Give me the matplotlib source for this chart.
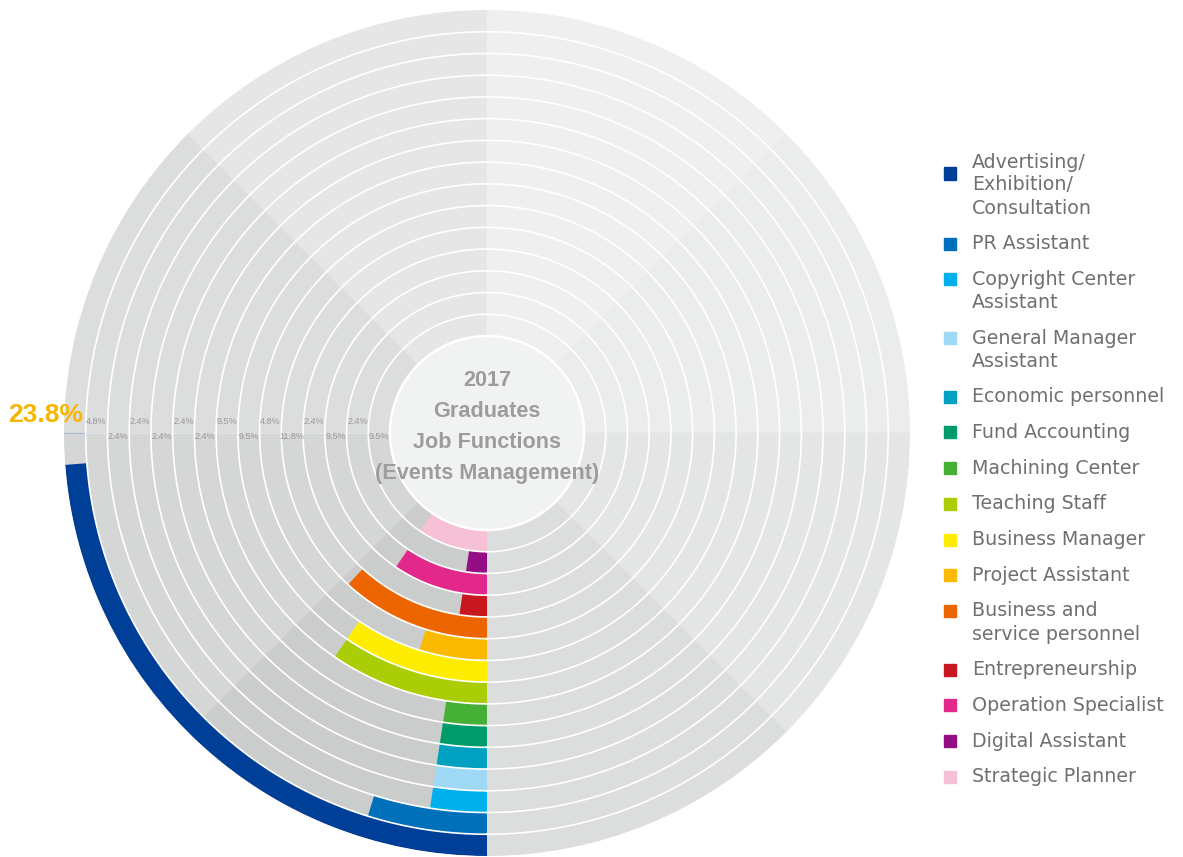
import numpy as np
import matplotlib.pyplot as plt
from matplotlib.patches import Rectangle

# ring data, outermost ring first
functions = ["Advertising/\nExhibition/\nConsultation", "PR Assistant",
             "Copyright Center\nAssistant", "General Manager\nAssistant",
             "Economic personnel", "Fund Accounting", "Machining Center",
             "Teaching Staff", "Business Manager", "Project Assistant",
             "Business and\nservice personnel", "Entrepreneurship",
             "Operation Specialist", "Digital Assistant", "Strategic Planner"]
shares = [23.8, 4.8, 2.4, 2.4, 2.4, 2.4, 2.4, 9.5, 9.5, 4.8, 11.8, 2.4, 9.5, 2.4, 9.5]
colors = ["#003f98", "#0070bb", "#00b0ec", "#9fd9f6", "#00a0c0", "#009b6b",
          "#45b035", "#aacd06", "#ffed00", "#fbba00", "#ec6500", "#c8171e",
          "#e2288a", "#940d85", "#f6c0d6"]
title_lines = ["2017", "Graduates", "Job Functions", "(Events Management)"]

# background shading, 45 degree sectors clockwise from 6 o'clock
sector_colors = ["#cbcccc", "#d5d6d6", "#dcdddd", "#e6e6e6",
                 "#efefef", "#ebecec", "#e4e5e5", "#dcdddd"]

W, H = 1183, 857
cx, cy = 487, 433
R_out, R_in = 423, 97
n = len(shares)
pitch = (R_out - R_in) / n

fig = plt.figure(figsize=(W / 100, H / 100), dpi=100)
ax = fig.add_axes([(cx - R_out) / W, (H - cy - R_out) / H, 2 * R_out / W, 2 * R_out / H],
                  projection="polar")
ax.set_theta_zero_location("S")
ax.set_theta_direction(-1)
ax.set_ylim(0, R_out)
ax.set_axis_off()

# background tracks
sec = 2 * np.pi / len(sector_colors)
ax.bar(np.arange(len(sector_colors)) * sec, R_out - R_in, width=sec, bottom=R_in,
       align="edge", color=sector_colors, edgecolor=sector_colors, linewidth=0.5)

# value bars
bottoms = R_out - (np.arange(n) + 1) * pitch
ax.bar(0, pitch, width=np.array(shares) / 100 * 2 * np.pi, bottom=bottoms,
       align="edge", color=colors, linewidth=0)

# radial label line at 9 o'clock
ax.plot([np.pi / 2, np.pi / 2], [R_in, R_out - pitch], color="#e2e3e3", lw=0.8, zorder=3)
ax.plot([np.pi / 2, np.pi / 2], [R_out - pitch, R_out], color="#a9b7d6", lw=0.8, zorder=3)

# white separators between rings
t = np.linspace(0, 2 * np.pi, 720)
for k in range(1, n):
    ax.plot(t, np.full_like(t, R_out - k * pitch), color="white", lw=1.2, zorder=4)

# center disc
ax.bar(0, R_in, width=2 * np.pi, bottom=0, align="edge", color="#f1f2f2",
       linewidth=0, zorder=5)
ax.plot(t, np.full_like(t, R_in), color="white", lw=1.8, zorder=5)
for j, line in enumerate(title_lines):
    fig.text(cx / W, 1 - (381 + j * 31) / H, line, ha="center", va="center",
             fontsize=15.6, fontweight="bold", color="#9c9c9c",
             family="Liberation Sans", zorder=6)

# percentage labels along the 9 o'clock line
for k, v in enumerate(shares):
    rc = R_out - (k + 0.5) * pitch
    if k == 0:
        ax.annotate(f"{v}%", xy=(np.pi / 2, rc), xytext=(-21, 13), textcoords="offset points",
                    ha="center", va="center", fontsize=19, fontweight="bold",
                    color="#f7b500", family="Liberation Sans", zorder=7)
        continue
    dy = 8 if k % 2 == 1 else -2.5
    ax.annotate(f"{v}%", xy=(np.pi / 2, rc), xytext=(0, dy), textcoords="offset points",
                ha="center", va="center", fontsize=6.5, color="#999999",
                family="Liberation Sans", zorder=7)

# legend
y = 162
for name, c in zip(functions, colors):
    lines = name.split("\n")
    sq_y = y + (11.5 if len(lines) > 2 else 0)
    fig.patches.append(Rectangle((944 / W, 1 - (sq_y + 6) / H), 12 / W, 12 / H,
                                 transform=fig.transFigure, color=c))
    for j, line in enumerate(lines):
        fig.text(972 / W, 1 - (y + j * 23) / H, line, ha="left", va="center",
                 fontsize=13.7, color="#707070", family="DejaVu Sans")
    y += (len(lines) - 1) * 23 + 35.7

fig.savefig("out.png", dpi=100)
